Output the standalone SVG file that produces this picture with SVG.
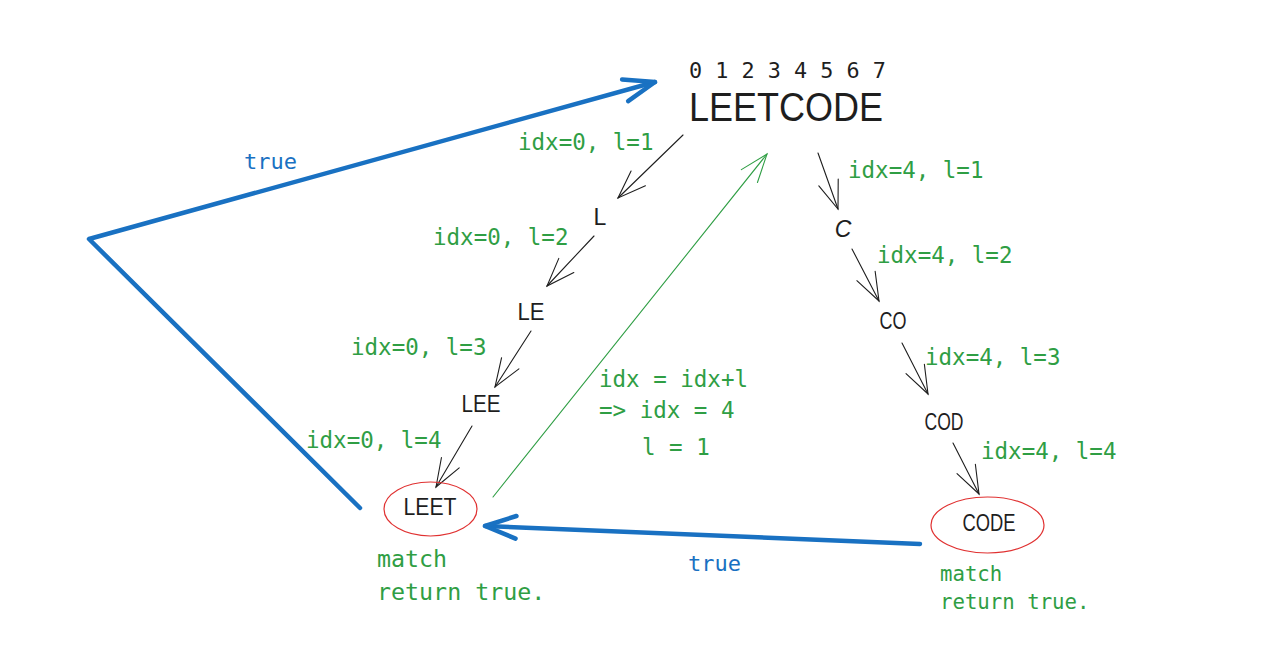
<svg xmlns="http://www.w3.org/2000/svg" width="1288" height="645" viewBox="0 0 1288 645">
<style>
.g{fill:#2f9e44;font-family:"DejaVu Sans Mono","Liberation Mono",monospace;font-size:22.5px}
.b{fill:#1971c2;font-family:"DejaVu Sans Mono","Liberation Mono",monospace;font-size:22px}
.n{fill:#1e1e1e;font-family:"Liberation Sans",Arial,sans-serif;font-size:23px;text-anchor:middle}
.k{fill:none;stroke:#1e1e1e;stroke-width:1.1;stroke-linecap:round}
.gl{fill:none;stroke:#2f9e44;stroke-width:1.1;stroke-linecap:round}
.bl{fill:none;stroke:#1971c2;stroke-width:4.5;stroke-linecap:round;stroke-linejoin:round}
.ov{fill:none;stroke:#e03131;stroke-width:1.2}
</style>
<defs>
<marker id="ak" markerUnits="userSpaceOnUse" orient="auto" markerWidth="40" markerHeight="30" refX="0" refY="0" viewBox="-32 -15 36 30" overflow="visible">
<path d="M-28.2,-10.3 L0,0 L-28.2,10.3" fill="none" stroke="#1e1e1e" stroke-width="1.1" stroke-linecap="round"/>
</marker>
<marker id="ag" markerUnits="userSpaceOnUse" orient="auto" markerWidth="40" markerHeight="30" refX="0" refY="0" viewBox="-32 -15 36 30" overflow="visible">
<path d="M-28.2,-10.3 L0,0 L-28.2,10.3" fill="none" stroke="#2f9e44" stroke-width="1.1" stroke-linecap="round"/>
</marker>
<marker id="ab" markerUnits="userSpaceOnUse" orient="auto" markerWidth="44" markerHeight="34" refX="0" refY="0" viewBox="-36 -17 40 34" overflow="visible">
<path d="M-31,-11.3 L0,0 L-31,11.3" fill="none" stroke="#1971c2" stroke-width="4.5" stroke-linecap="round" stroke-linejoin="round"/>
</marker>
</defs>
<rect width="1288" height="645" fill="#ffffff"/>

<g id="connectors">
<path class="k" d="M683,135 L618,198" marker-end="url(#ak)"/>
<path class="k" d="M594,236 L547,286" marker-end="url(#ak)"/>
<path class="k" d="M531,331 L495,387" marker-end="url(#ak)"/>
<path class="k" d="M472,426 L436,487" marker-end="url(#ak)"/>
<path class="k" d="M818,153 L838,209" marker-end="url(#ak)"/>
<path class="k" d="M852,249 L879,301" marker-end="url(#ak)"/>
<path class="k" d="M902,343 L928,394" marker-end="url(#ak)"/>
<path class="k" d="M953,443 L979,494" marker-end="url(#ak)"/>
<path class="gl" d="M493,497 L767,154" marker-end="url(#ag)"/>
<path class="bl" d="M360,508 L89,239 L655,82" marker-end="url(#ab)"/>
<path class="bl" d="M920,544 L485,526" marker-end="url(#ab)"/>
</g>

<g id="root">
<text x="689" y="78" style="font-family:'DejaVu Sans Mono','Liberation Mono',monospace;font-size:21.8px;fill:#1e1e1e">0 1 2 3 4 5 6 7</text>
<text x="689" y="121" style="font-family:'Liberation Sans',Arial,sans-serif;font-size:41.5px;fill:#1e1e1e" textLength="194" lengthAdjust="spacingAndGlyphs">LEETCODE</text>
</g>

<g id="node-L"><text class="n" x="600" y="225">L</text></g>
<g id="node-LE"><text class="n" x="531" y="320" textLength="27" lengthAdjust="spacingAndGlyphs">LE</text></g>
<g id="node-LEE"><text class="n" x="481" y="412" textLength="39" lengthAdjust="spacingAndGlyphs">LEE</text></g>
<g id="node-LEET">
<ellipse class="ov" cx="430.5" cy="509" rx="46.5" ry="27"/>
<text class="n" x="430" y="515" textLength="53" lengthAdjust="spacingAndGlyphs">LEET</text>
</g>
<g id="node-C"><text class="n" x="843" y="237" style="font-style:italic">C</text></g>
<g id="node-CO"><text class="n" x="893" y="329" textLength="27" lengthAdjust="spacingAndGlyphs">CO</text></g>
<g id="node-COD"><text class="n" x="944" y="430" textLength="39" lengthAdjust="spacingAndGlyphs">COD</text></g>
<g id="node-CODE">
<ellipse class="ov" cx="987.5" cy="525" rx="56.5" ry="28"/>
<text class="n" x="989" y="531" textLength="53" lengthAdjust="spacingAndGlyphs">CODE</text>
</g>

<g id="labels">
<text class="g" x="518" y="150">idx=0, l=1</text>
<text class="g" x="433" y="245">idx=0, l=2</text>
<text class="g" x="351" y="355">idx=0, l=3</text>
<text class="g" x="306" y="448">idx=0, l=4</text>
<text class="g" x="848" y="178">idx=4, l=1</text>
<text class="g" x="877" y="263">idx=4, l=2</text>
<text class="g" x="925" y="365">idx=4, l=3</text>
<text class="g" x="981" y="459">idx=4, l=4</text>
<text class="g" x="599" y="387">idx = idx+l</text>
<text class="g" x="599" y="418">=&gt; idx = 4</text>
<text class="g" x="642" y="455">l = 1</text>
<text class="g" x="377" y="567" style="font-size:23.3px">match</text>
<text class="g" x="377" y="600" style="font-size:23.3px">return true.</text>
<text class="g" x="940" y="581" style="font-size:20.7px">match</text>
<text class="g" x="940" y="609" style="font-size:20.7px">return true.</text>
<text class="b" x="244" y="169">true</text>
<text class="b" x="688" y="571">true</text>
</g>
</svg>
